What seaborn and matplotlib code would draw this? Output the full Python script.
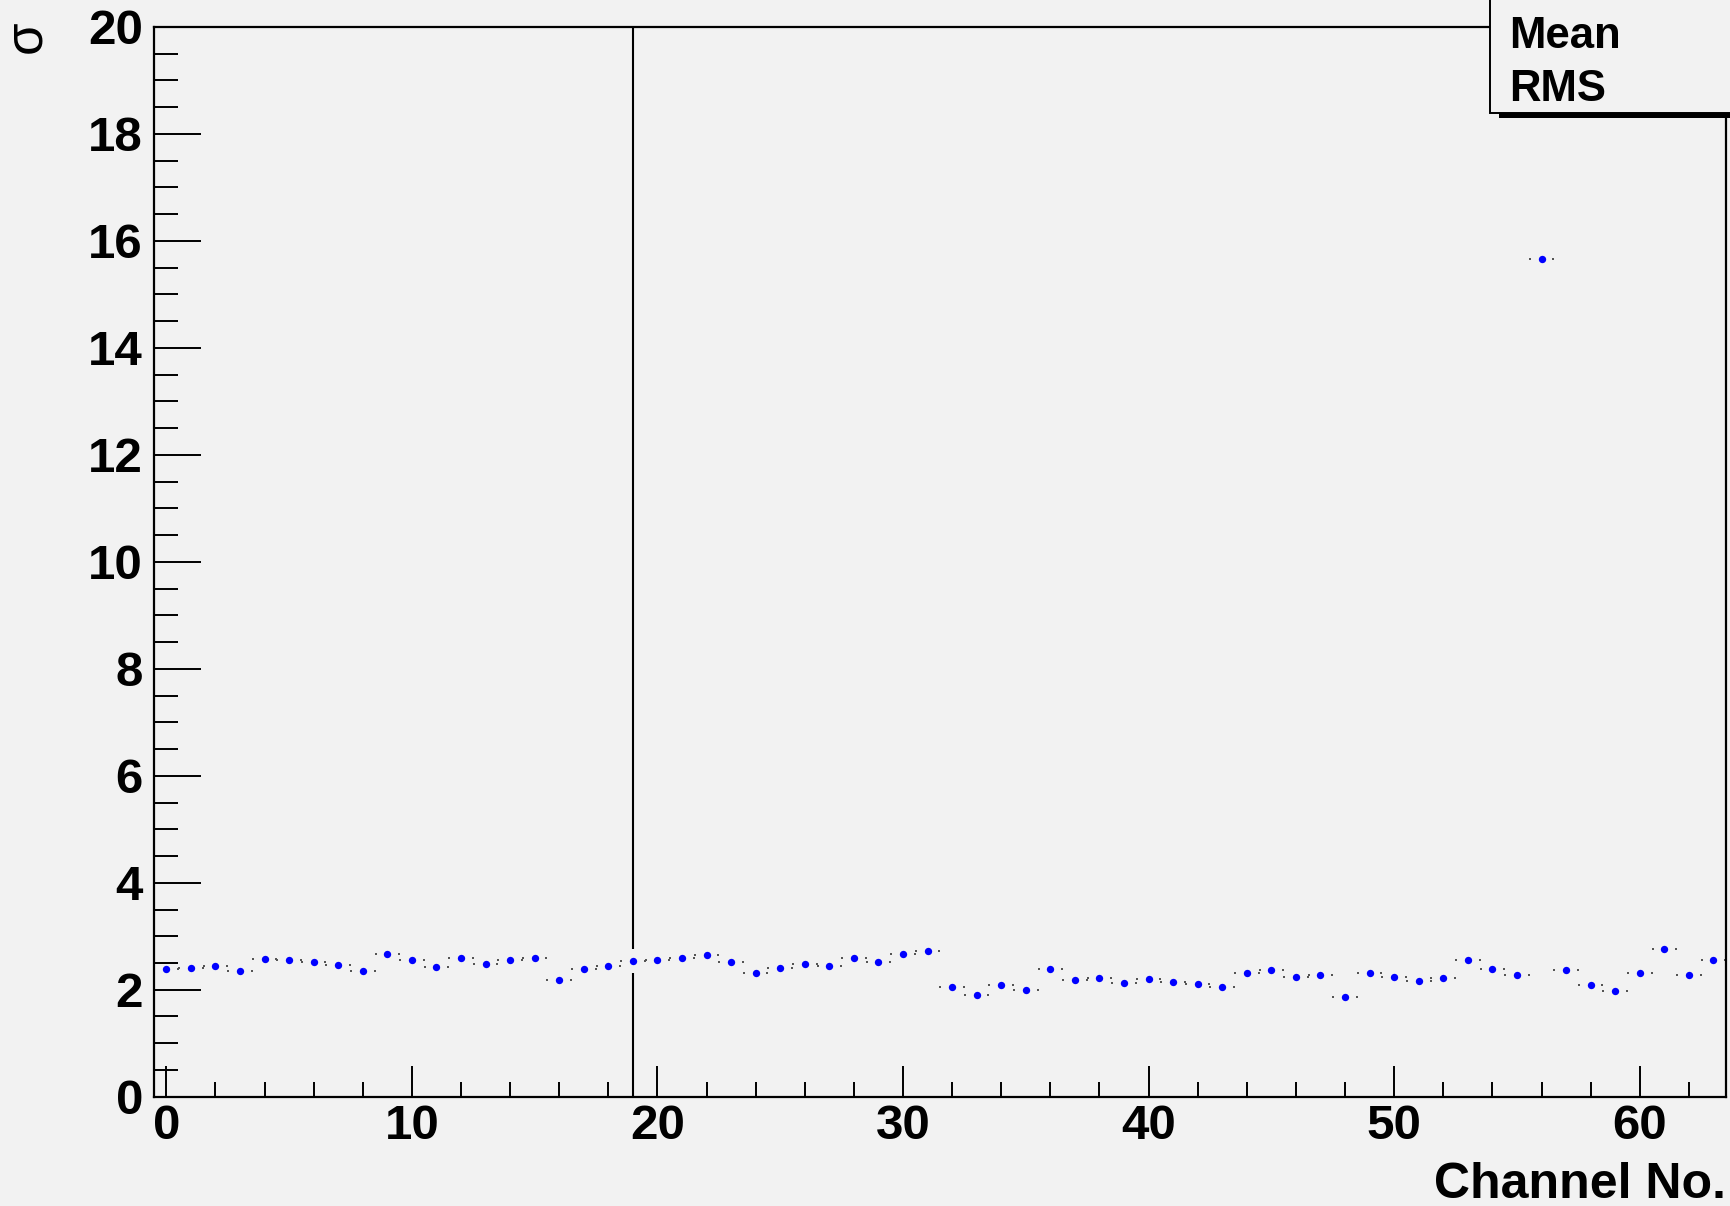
import numpy as np
import matplotlib
matplotlib.use("Agg")
import matplotlib.pyplot as plt
import seaborn as sns
from matplotlib.patches import Rectangle
from matplotlib.ticker import MultipleLocator

# channel number and the fitted pedestal width (sigma) per channel
channels = np.arange(64)
sigma = [2.39, 2.40, 2.44, 2.35, 2.57, 2.56, 2.51, 2.46, 2.35, 2.66,
         2.55, 2.42, 2.60, 2.49, 2.56, 2.59, 2.18, 2.39, 2.44, 2.54,
         2.56, 2.60, 2.64, 2.51, 2.31, 2.41, 2.49, 2.44, 2.60, 2.52,
         2.66, 2.72, 2.06, 1.90, 2.09, 1.99, 2.39, 2.18, 2.22, 2.13,
         2.20, 2.15, 2.11, 2.05, 2.31, 2.36, 2.24, 2.27, 1.86, 2.32,
         2.24, 2.16, 2.21, 2.56, 2.39, 2.27, 15.66, 2.36, 2.09, 1.98,
         2.32, 2.77, 2.27, 2.55]
# channel 19 has an error bar that runs out of the frame
big_err_channel = 19
big_err = 40.0

stat_labels = ["Mean", "RMS"]

BG = "#f2f2f2"
W, H = 1731, 1206

sns.set_style("white", {"axes.facecolor": BG, "figure.facecolor": BG,
                        "text.color": "black", "xtick.color": "black",
                        "ytick.color": "black", "axes.edgecolor": "black",
                        "xtick.bottom": True, "ytick.left": True})
plt.rcParams["font.family"] = ["Liberation Sans", "DejaVu Sans"]

fig = plt.figure(figsize=(W / 100, H / 100), dpi=100)
ax = fig.add_axes([154 / W, 109.3 / H, (1725.7 - 154) / W, (1179 - 109.3) / H])

df_x = np.asarray(channels)
df_y = np.asarray(sigma)

# tiny x error bar ends (+-0.5 bin)
for side in (-0.48, 0.48):
    ax.scatter(df_x + side, df_y, s=1.5, marker="s", color="#555555",
               linewidths=0, zorder=2)

sns.scatterplot(x=df_x, y=df_y, color="blue", s=28, linewidth=0,
                ax=ax, zorder=3)

# error bar of channel 19, with the usual gap round the marker
yc = df_y[big_err_channel]
gap = 0.22
ax.vlines(big_err_channel, yc + gap, min(yc + big_err, 20), color="black",
          linewidth=1.5, zorder=2)
ax.vlines(big_err_channel, max(yc - big_err, 0), yc - gap, color="black",
          linewidth=1.5, zorder=2)

ax.set_xlim(-0.5, 63.5)
ax.set_ylim(0, 20)
ax.xaxis.set_major_locator(MultipleLocator(10))
ax.xaxis.set_minor_locator(MultipleLocator(2))
ax.yaxis.set_major_locator(MultipleLocator(2))
ax.yaxis.set_minor_locator(MultipleLocator(0.5))

for s in ax.spines.values():
    s.set_linewidth(1.6)
    s.set_color("black")

ax.tick_params(axis="x", which="both", bottom=True, top=False)
ax.tick_params(axis="y", which="both", left=True, right=False)
ax.tick_params(axis="x", which="major", direction="in", length=22, width=1.4,
               pad=5, labelsize=35.5, colors="black")
ax.tick_params(axis="x", which="minor", direction="in", length=11, width=1.4,
               colors="black")
ax.tick_params(axis="y", which="major", direction="in", length=34, width=1.4,
               pad=8, labelsize=35.5, colors="black")
ax.tick_params(axis="y", which="minor", direction="in", length=17, width=1.4,
               colors="black")
for lab in ax.get_xticklabels() + ax.get_yticklabels():
    lab.set_fontweight("bold")
ax.set_xlabel("")
ax.set_ylabel("")

fig.text(1725.7 / W, (H - 1198) / H, "Channel No.", ha="right",
         va="baseline", fontsize=36, fontweight="bold", color="black")
fig.text(40 / W, 1 - 20 / H, "σ", rotation=90, rotation_mode="anchor",
         ha="right", va="baseline", fontsize=38, color="black")

# stats box in the top right corner, with its shadow
fig.add_artist(Rectangle((1499 / W, (H - 118) / H), 300 / W, 10 / H,
                         transform=fig.transFigure, facecolor="black",
                         edgecolor="none", zorder=10))
fig.add_artist(Rectangle((1490 / W, (H - 113) / H), 300 / W, 130 / H,
                         transform=fig.transFigure, facecolor=BG,
                         edgecolor="black", linewidth=1.4, zorder=11))
for lab, base in zip(stat_labels, [48, 101]):
    fig.text(1509 / W, (H - base) / H, lab, ha="left", va="baseline",
             fontsize=31.5, fontweight="bold", color="black", zorder=12)

fig.savefig("out.png", dpi=100, facecolor=BG)
